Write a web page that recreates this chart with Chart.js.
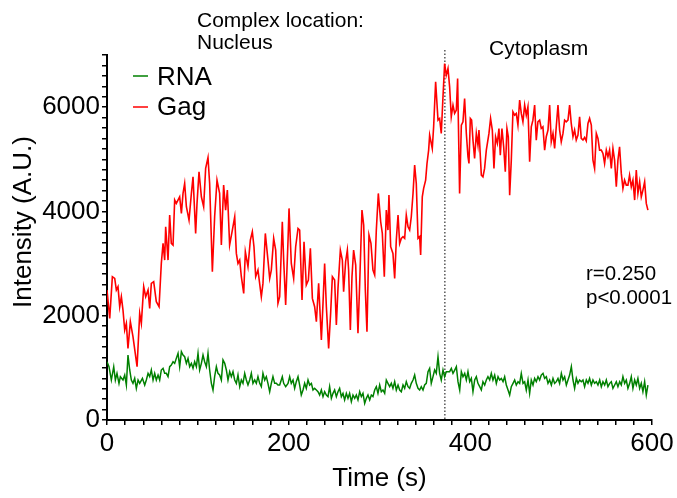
<!DOCTYPE html>
<html>
<head>
<meta charset="utf-8">
<script src="https://cdn.jsdelivr.net/npm/chart.js@4.4.1/dist/chart.umd.min.js"></script>
<style>
  html, body { margin: 0; padding: 0; background: #fff; }
  #wrap { width: 677px; height: 498px; }
</style>
</head>
<body>
<div id="wrap"><canvas id="myChart" width="677" height="498"></canvas></div>
<script>
// Gag (red) trace: time (s) and intensity (A.U.)
const gagTime = [0,3,5.9,8.5,10.3,12.1,14,15.8,17.6,19.5,21.3,23.1,25.7,28.6,33.1,36,37.8,40.4,42.6,45.2,
  47,48.8,51.4,54.3,57.3,59.8,61.7,63.5,64.6,67.2,69,70.8,72.7,74.5,76.3,80,81.9,83.7,85.5,87.4,
  90.3,92.9,94.7,97.6,99.1,101.3,103.9,106.4,108.6,111.2,113,116,118.5,121.1,124,125.9,128.4,130.6,132.5,135,
  138,140.6,142.4,144.2,146.1,147.9,150.5,152.3,155.2,157.8,160,161.8,163.7,166.2,169.9,171.7,174.3,177.2,179.1,180.9,
  183.5,185.7,188.2,190.1,
  193,194.5,196.7,199.3,200.4,202.9,205.5,207.7,210.3,212.1,214.7,216.9,219.4,221.7,223.9,226.1,228.6,230.5,233,236,
  237.8,239.6,241.5,244,246.2,248.1,250.6,252.5,254.3,256.9,259.1,260.5,262.7,264.6,266,267.9,269.7,271.5,273.8,276.3,
  278.2,280.7,282.6,284.4,286.2,288.4,290.6,292.8,294.7,296.5,298.7,301.3,303.1,305.3,307.5,309.3,310.4,312.3,314.8,316.7,
  318.5,320.4,322.2,324,325.9,327.7,329.5,331.4,333.2,335,336.9,338.7,340.5,342.4,344.2,345.3,347.1,348.6,350.8,352.3,
  354.1,
  355.2,358.1,359.6,361.8,364.4,366.2,368,369.9,371.7,373.5,375.4,377.2,379,380.9,382.7,384.6,386,388.2,390.1,391.9,
  393.7,395.6,397.4,398.5,400,401.4,402.9,404.7,406.6,408.4,409.5,412.1,413.9,415.7,417.6,420.5,422.3,424.2,426,427.8,
  429.7,431.5,433,434.8,436.7,438.5,440.3,441.8,443.3,445.1,446.9,448.8,450.6,452.4,454.3,456.1,457.9,459.8,461.6,463.4,
  465.3,467.1,468.9,470.8,472.6,474.4,476.3,478.1,479.9,481.8,483.6,485.5,487.3,489.1,491,492.8,494.6,496.5,498.3,500.1,
  502,503.8,505.6,507.5,509.3,511.1,513,514.8,516.6,518.5,520.3,522.1,524,525.8,527.6,529.5,531.3,533.2,535,536.8,
  538.7,540.5,542.3,544.2,546,547.8,549.7,551.5,553.3,555.2,557,558.8,560.7,562.5,564.3,566.2,568,569.8,571.7,573.5,
  575.3,577.2,579,580.9,582.7,584.5,586.4,588.2,590,591.9,593.7,595.5];
const gagValue = [2492,1949,2748,2716,2492,2556,2173,2364,2109,1725,1853,1374,1885,1598,1022,2045,1853,2556,2364,2492,
  2141,2620,2652,2269,2173,3003,3387,3067,3706,3067,3930,3387,3355,4218,4154,4281,3962,4345,4537,4090,
  3834,4345,4665,3578,4154,4761,4281,4090,4825,5035,4537,2844,3898,4601,4345,3355,4505,4026,4409,3355,
  3642,3898,3195,3003,3067,2748,2428,3227,2940,3451,3610,3323,2748,2876,2364,2620,3578,3067,2716,2876,
  3483,3259,2237,2364,
  3802,3067,2205,3451,4058,3003,2716,3323,3674,3642,2300,3419,2588,2684,3291,2332,2173,1885,2620,1534,
  2237,3003,2173,1374,2045,2748,2684,1821,2524,3259,3067,2460,3035,3259,2876,1725,2748,3259,2972,1662,
  2620,4026,3738,2492,1693,3547,3387,2876,2780,3642,4345,3802,3578,2748,4026,3642,4313,3323,3195,2716,
  3451,3930,3387,3483,3515,3483,3930,3706,3642,3898,4345,4888,4537,3483,3515,3163,4281,4441,4601,4920,
  5176,
  5464,5208,5623,6486,5751,5783,5496,6198,6837,6614,6742,6390,5815,6039,5879,5943,6550,4345,5655,5719,
  6166,5496,5048,4920,5783,5751,5368,5016,5496,5272,5560,4697,4665,4825,5176,5496,5783,5560,4825,5432,
  5304,5591,5080,5591,5240,4761,5591,5432,4313,4984,5911,5847,5879,5655,6135,5879,5719,6039,5847,6007,
  4952,5623,5751,6039,5368,5719,5751,5591,5623,5176,5432,5560,6039,5336,5496,5208,5623,6039,5560,5336,
  5496,5751,5719,5751,6039,5687,5432,5560,5368,5464,5815,5400,5368,5419,5355,5687,5783,5655,4984,4825,
  5496,5400,5176,5176,5112,4920,5176,5048,5176,4825,5208,4984,4473,4984,5240,4729,4441,4601,4505,4505,
  4697,4473,4601,4218,4793,4345,4569,4281,4409,4569,4154,4026];

// RNA (green) trace
const rnaTime = [0,2.2,4.8,7.4,9.2,11,13.2,14.7,17.6,19.5,21.3,23.1,25,26.8,28.6,30.5,32.3,34.2,36,39,
  41.5,43.3,45.2,47,48.8,50.7,52.5,54.3,56.2,58,59.8,61.7,63.5,65.3,67.2,69,70.8,72.7,74.5,76.3,
  78.2,80,81.9,83.7,85.5,87.4,89.2,91,92.9,94.7,96.5,98.4,100.2,102,103.9,105.7,107.5,109.4,111.2,113,
  114.9,116.7,118.5,120.4,122.2,124,125.9,127.7,129.6,131.4,133.2,135.1,136.9,138.7,140.6,142.4,144.2,146.1,147.9,149.7,
  151.6,153.4,155.2,157.1,158.9,160.7,162.6,164.4,166.2,168.1,169.9,171.7,173.6,175.4,177.2,179.1,180.9,182.7,184.6,186.4,
  188.2,190.1,
  193,194.5,196.7,199.3,201.1,202.9,204.8,206.6,208.4,210.3,212.1,213.9,215.8,217.6,219.4,221.3,223.1,225,226.8,228.6,
  230.5,232.3,234.1,236,237.8,239.6,241.5,243.3,245.1,247,248.8,250.6,252.5,254.3,256.1,258,259.8,261.6,263.5,265.3,
  267.1,269,270.8,272.7,274.5,276.3,278.2,280,281.8,283.7,285.5,287.3,289.2,291,292.8,294.7,296.5,298.3,300.2,302,
  303.8,305.7,307.5,309.3,311.2,313,314.8,316.7,318.5,320.4,322.2,324,325.9,327.7,329.5,331.4,333.2,335,336.9,338.7,
  340.5,342.4,344.2,346,347.9,349.7,351.5,353.4,355.2,357,358.9,360.7,362.5,364.4,366.2,368,369.9,371.7,373.5,375.4,
  377.2,379.1,380.9,382.8,384.6,386.4,388.3,390.1,391.9,393.8,395.6,397.4,399.3,401.1,402.9,404.8,406.6,408.4,410.3,412.1,
  413.9,415.8,417.6,419.4,421.3,423.1,424.9,426.8,428.6,430.5,432.3,434.1,436,437.8,439.6,441.5,443.3,445.1,447,448.8,
  450.6,452.5,454.3,456.1,458,459.8,461.6,463.5,465.3,467.1,469,470.8,472.6,474.5,476.3,478.1,480,481.8,483.7,485.5,
  487.3,489.2,491,492.8,494.7,496.5,498.3,500.2,502,503.8,505.7,507.5,509.3,511.2,513,514.8,516.7,518.5,520.3,522.2,
  524,525.8,527.7,529.5,531.3,533.2,535,536.8,538.7,540.5,542.4,544.2,546,547.9,549.7,551.5,553.4,555.2,557,558.9,
  560.7,562.5,564.4,566.2,568,569.9,571.7,573.5,575.4,577.2,579,580.9,582.7,584.5,586.4,588.2,590,591.9,593.7,595.5];
const rnaValue = [1118,1022,767,1022,767,895,703,831,767,863,671,1246,959,767,703,799,607,767,703,799,
  671,767,895,831,959,767,895,767,863,767,959,991,895,895,831,1022,1054,1118,1086,1182,
  1278,1022,1310,1246,1214,1086,1182,1022,1086,991,1118,1022,1278,959,1086,1246,1118,1022,1278,959,
  703,575,831,1022,895,863,767,1150,1086,959,767,927,831,927,767,703,863,639,767,703,
  895,767,671,767,895,703,767,703,831,703,639,895,767,831,703,543,703,831,703,703,
  671,671,
  831,703,639,703,831,703,767,607,735,831,671,479,575,703,607,767,671,703,575,607,
  575,543,479,575,448,543,479,448,639,416,511,575,448,543,607,448,511,384,511,416,
  511,352,479,416,479,384,543,448,511,320,416,479,384,479,448,575,639,511,671,543,
  575,511,767,703,639,703,607,735,575,671,575,543,671,607,735,639,607,703,767,863,
  703,607,575,639,575,671,703,927,991,703,831,959,895,1214,895,767,959,831,927,927,
  926,990,894,958,1022,735,575,926,830,894,767,926,735,798,543,767,830,703,639,575,
  735,671,767,830,767,894,767,862,703,830,767,798,735,830,671,575,479,639,703,767,
  671,735,703,894,703,735,575,767,511,767,671,798,735,830,767,862,894,798,830,703,
  767,671,798,703,735,798,703,894,767,830,671,767,862,1022,767,607,798,703,767,735,
  767,639,767,703,798,671,767,703,735,671,767,639,735,671,767,639,703,735,607,671,
  735,639,735,671,830,703,767,607,703,830,607,767,671,798,607,703,543,735,479,671];

const xTickLabels = [0, 200, 400, 600];
const yTickLabels = [0, 2000, 4000, 6000];
const boundaryTime = 372;
const fontFamily = "'Liberation Sans', Arial, sans-serif";

function pairs(xs, ys) {
  return xs.map((x, i) => ({ x: x, y: ys[i] }));
}

const extras = {
  id: 'extras',
  beforeDatasetsDraw(chart) {
    const c = chart.ctx;
    const x = chart.scales.x.getPixelForValue(boundaryTime);
    c.save();
    c.strokeStyle = '#000';
    c.lineWidth = 1;
    c.setLineDash([1.5, 2]);
    c.beginPath();
    c.moveTo(x, 50);
    c.lineTo(x, chart.chartArea.bottom);
    c.stroke();
    c.restore();
  },
  afterDraw(chart) {
    const c = chart.ctx;
    c.save();
    c.fillStyle = '#000';
    c.textBaseline = 'alphabetic';

    // y axis title
    c.save();
    c.font = '26px ' + fontFamily;
    c.translate(31, 222);
    c.rotate(-Math.PI / 2);
    c.textAlign = 'center';
    c.fillText('Intensity (A.U.)', 0, 0);
    c.restore();

    // legend
    const items = [['RNA', '#008000', 76, 85], ['Gag', '#ff0000', 107, 115]];
    c.font = '26px ' + fontFamily;
    c.textAlign = 'left';
    items.forEach(([label, color, ly, by]) => {
      c.strokeStyle = color;
      c.lineWidth = 1.5;
      c.beginPath();
      c.moveTo(133, ly);
      c.lineTo(148, ly);
      c.stroke();
      c.fillStyle = '#000';
      c.fillText(label, 157, by);
    });

    // annotations
    c.font = '21px ' + fontFamily;
    c.fillText('Complex location:', 197, 27);
    c.fillText('Nucleus', 197, 49);
    c.fillText('Cytoplasm', 489, 55);
    c.font = '20.5px ' + fontFamily;
    c.fillText('r=0.250', 586, 280);
    c.fillText('p<0.0001', 586, 304);
    c.restore();
  }
};

const ctx = document.querySelector('#myChart');

new Chart(ctx, {
  type: 'line',
  data: {
    datasets: [
      {
        label: 'Gag',
        data: pairs(gagTime, gagValue),
        borderColor: '#ff0000',
        borderWidth: 1.6,
        pointRadius: 0,
        tension: 0,
      },
      {
        label: 'RNA',
        data: pairs(rnaTime, rnaValue),
        borderColor: '#008000',
        borderWidth: 1.5,
        pointRadius: 0,
        tension: 0,
      },
    ],
  },
  options: {
    responsive: false,
    animation: false,
    layout: { padding: { top: 55, right: 25, left: 0, bottom: 0 } },
    plugins: {
      legend: { display: false },
      tooltip: { enabled: false },
    },
    scales: {
      x: {
        type: 'linear',
        min: 0,
        max: 600,
        afterFit: (s) => { s.height = 78; },
        border: { color: '#000', width: 2 },
        grid: { drawOnChartArea: false, drawTicks: true, tickLength: 5, color: '#000', lineWidth: 1.5 },
        ticks: {
          stepSize: 20,
          autoSkip: false,
          maxRotation: 0,
          padding: 3,
          color: '#000',
          font: { family: fontFamily, size: 26 },
          callback: (v) => xTickLabels.includes(v) ? String(v) : '',
        },
        title: {
          display: true,
          text: 'Time (s)',
          color: '#000',
          font: { family: fontFamily, size: 26 },
          padding: { top: 2 },
        },
      },
      y: {
        min: 0,
        max: 7000,
        afterFit: (s) => { s.width = 107; },
        border: { color: '#000', width: 2 },
        grid: { drawOnChartArea: false, drawTicks: true, tickLength: 5, color: '#000', lineWidth: 1.5 },
        ticks: {
          stepSize: 200,
          autoSkip: false,
          padding: 2,
          color: '#000',
          font: { family: fontFamily, size: 26 },
          callback: (v) => yTickLabels.includes(v) ? String(v) : '',
        },
      },
    },
  },
  plugins: [extras],
});
</script>
</body>
</html>
